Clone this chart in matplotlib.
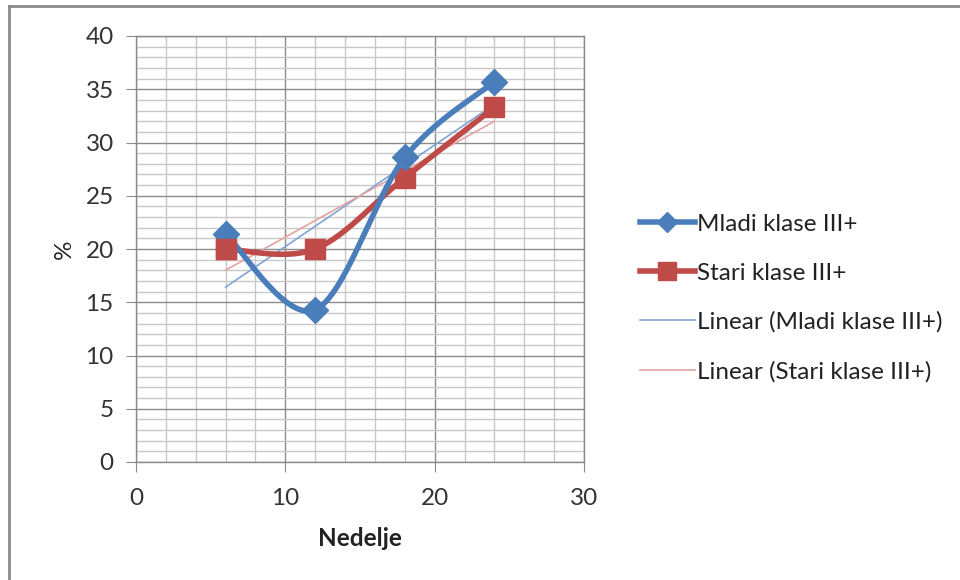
import numpy as np
import matplotlib
matplotlib.use("Agg")
import matplotlib.pyplot as plt
from matplotlib.lines import Line2D

weeks = [6, 12, 18, 24]
mladi = [21.4, 14.3, 28.6, 35.7]
stari = [20.0, 20.0, 26.7, 33.3]
labels = ["Mladi klase III+", "Stari klase III+",
          "Linear (Mladi klase III+)", "Linear (Stari klase III+)"]
x_ticks = [0, 10, 20, 30]
y_ticks = [0, 5, 10, 15, 20, 25, 30, 35, 40]

plt.rcParams['font.family'] = ['Lato', 'DejaVu Sans']

BLUE = "#4A7EBB"
RED = "#BE4B48"
BLUE_T = "#7FA6D6"
RED_T = "#E3A3A2"
FS = 17.5


def smooth(xs, ys, n=60):
    P = np.column_stack([xs, ys]).astype(float)
    m = len(P)
    out = []
    for i in range(m - 1):
        p0 = P[i - 1] if i > 0 else P[i]
        p1 = P[i]
        p2 = P[i + 1]
        p3 = P[i + 2] if i + 2 < m else P[i + 1]
        c1 = p1 + (p2 - p0) / 6.0
        c2 = p2 - (p3 - p1) / 6.0
        t = np.linspace(0, 1, n)[:, None]
        seg = ((1 - t) ** 3) * p1 + 3 * ((1 - t) ** 2) * t * c1 + 3 * (1 - t) * t ** 2 * c2 + t ** 3 * p2
        out.append(seg if i == 0 else seg[1:])
    s = np.vstack(out)
    return s[:, 0], s[:, 1]


fig = plt.figure(figsize=(9.6, 5.8), dpi=100)
ax = fig.add_axes([136 / 960, 1 - 462 / 580, (584 - 136) / 960, (462 - 36) / 580])

ax.set_xlim(0, 30)
ax.set_ylim(0, 40)
ax.set_xticks(x_ticks)
ax.set_yticks(y_ticks)
ax.set_xticks(np.arange(0, 31, 2), minor=True)
ax.set_yticks(np.arange(0, 41, 1), minor=True)
ax.grid(which='minor', color='#c8c8c8', linewidth=1.0)
ax.grid(which='major', color='#8a8a8a', linewidth=1.0)
ax.set_axisbelow(True)
for s in ax.spines.values():
    s.set_color('#8a8a8a')
    s.set_linewidth(1.0)
ax.tick_params(which='major', direction='out', length=7, color='#8a8a8a',
               labelsize=FS, labelcolor='#333333')
ax.tick_params(axis='x', which='major', pad=12)
ax.tick_params(axis='y', which='major', pad=9)
ax.tick_params(which='minor', length=0)

# trendlines
xw = np.array(weeks, dtype=float)
for ys, col in [(mladi, BLUE_T), (stari, RED_T)]:
    k, b = np.polyfit(xw, np.array(ys), 1)
    ax.plot([xw[0], xw[-1]], [k * xw[0] + b, k * xw[-1] + b], color=col, lw=1.2, zorder=3)

sx, sy = smooth(weeks, stari)
ax.plot(sx, sy, color=RED, lw=4, zorder=4, solid_capstyle='round')
ax.plot(weeks, stari, ls='none', marker='s', ms=14, color=RED, zorder=5)

mx, my = smooth(weeks, mladi)
ax.plot(mx, my, color=BLUE, lw=4, zorder=6, solid_capstyle='round')
ax.plot(weeks, mladi, ls='none', marker='D', ms=13, color=BLUE, zorder=7)

ax.plot(weeks[:1], stari[:1], ls='none', marker='s', ms=14, color=RED, zorder=8)

ax.set_xlabel("Nedelje", fontsize=FS, fontweight='bold', color='#222222', labelpad=13)
ax.set_ylabel("%", fontsize=FS, color='#222222', labelpad=8)

handles = [
    Line2D([], [], color=BLUE, lw=4, marker='D', ms=10),
    Line2D([], [], color=RED, lw=4, marker='s', ms=13),
    Line2D([], [], color=BLUE_T, lw=1.2),
    Line2D([], [], color=RED_T, lw=1.2),
]
fig.legend(handles, labels, loc='center left', bbox_to_anchor=(640 / 960, 1 - 298 / 580),
           frameon=False, fontsize=FS, handlelength=2.25, handletextpad=0.1,
           labelspacing=1.15, labelcolor='#222222', borderpad=0, borderaxespad=0)

# outer border (left and top edges visible)
fig.add_artist(Line2D([9 / 960, 9 / 960], [0, 1 - 6 / 580], transform=fig.transFigure,
                      color='#8a8a8a', lw=2))
fig.add_artist(Line2D([9 / 960, 1], [1 - 6 / 580, 1 - 6 / 580], transform=fig.transFigure,
                      color='#8a8a8a', lw=2))

fig.savefig("out.png", dpi=100)
